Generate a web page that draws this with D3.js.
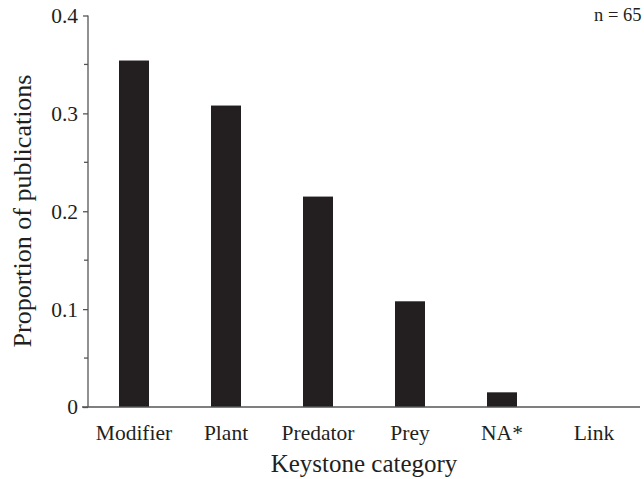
<!DOCTYPE html>
<html><head><meta charset="utf-8">
<script src="https://cdn.jsdelivr.net/npm/d3@7"></script>
<style>body{margin:0;background:#fff}svg{display:block}text{font-family:"Liberation Serif","Times New Roman",serif;fill:#231f20}</style>
</head><body>
<svg id="c" width="644" height="479"></svg>
<script>
const categories = ["Modifier","Plant","Predator","Prey","NA*","Link"];
const proportions = [0.354, 0.308, 0.215, 0.108, 0.015, 0];
const majorTicks = [0, 0.1, 0.2, 0.3, 0.4];
const minorTicks = [0.05, 0.15, 0.25, 0.35];
const yTitle = "Proportion of publications";
const xTitle = "Keystone category";
const note = "n = 65";

const svg = d3.select("#c");
const ink = "#231f20";
const x0 = 88, x1 = 640, yBase = 407, yTop = 15.5;
const x = d3.scaleBand().domain(categories).range([x0, x1]).paddingInner(0.674).paddingOuter(0.337);
const y = d3.scaleLinear().domain([0, 0.4]).range([yBase, yTop]);

// bars
svg.append("g").selectAll("rect").data(categories).join("rect")
  .attr("x", d => x(d)).attr("width", x.bandwidth())
  .attr("y", (d,i) => y(proportions[i])).attr("height", (d,i) => yBase - y(proportions[i]))
  .attr("fill", ink);

// y axis
const yAxis = svg.append("g").attr("transform", `translate(${x0},0)`)
  .call(d3.axisLeft(y).tickValues(majorTicks).tickSize(5).tickPadding(5).tickFormat(d => d === 0 ? "0" : d3.format(".1f")(d)));
yAxis.select(".domain").attr("stroke", "#555").attr("stroke-width", 1.3).attr("d", `M0,${yTop}V${yBase}`);
yAxis.selectAll(".tick line").attr("stroke", "#555").attr("stroke-width", 1.3);
yAxis.selectAll(".tick text").attr("font-size", 21.5).attr("fill", ink);
yAxis.selectAll(".minor").data(minorTicks).join("line").attr("class","minor")
  .attr("x1", -4).attr("x2", 0).attr("y1", d => y(d)).attr("y2", d => y(d))
  .attr("stroke", "#555").attr("stroke-width", 1.3);

// x axis line
svg.append("line").attr("x1", 82).attr("x2", x1).attr("y1", yBase).attr("y2", yBase)
  .attr("stroke", "#555").attr("stroke-width", 1.3);

// x category labels
const xAxis = svg.append("g").attr("transform", `translate(0,${yBase})`)
  .call(d3.axisBottom(x).tickSize(0).tickPadding(18));
xAxis.select(".domain").remove();
xAxis.selectAll(".tick text").attr("font-size", 21.5).attr("fill", ink);

// titles
svg.append("text").attr("x", 364).attr("y", 472).attr("text-anchor", "middle").attr("font-size", 25).text(xTitle);
svg.append("text").attr("transform", "translate(31,211) rotate(-90)").attr("text-anchor", "middle").attr("font-size", 26).text(yTitle);
svg.append("text").attr("x", 641.5).attr("y", 21).attr("text-anchor", "end").attr("font-size", 18.5).text(note);
</script>
</body></html>
